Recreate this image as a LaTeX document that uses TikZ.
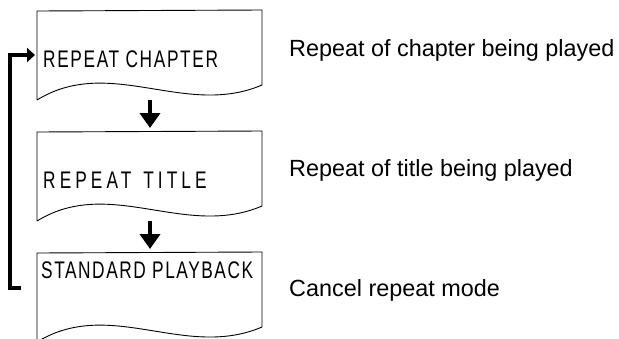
\documentclass[tikz,border=0pt]{standalone}
\usepackage{fontspec}
\setmainfont{Liberation Sans}
\newfontfamily\lcdfont{Liberation Sans}[FakeStretch=0.72]
\usetikzlibrary{arrows.meta,positioning}
\tikzset{panel/.pic={
    \draw[line width=0.9pt] (0,89) -- (0,0) -- (225,-1) -- (225,74) .. controls (148,107) and (73,44) .. (0,89);
    \coordinate (-in) at (113,-4); \coordinate (-out) at (113,89);
    \coordinate (-ret) at (-2,44); \coordinate (-back) at (-16,35);},
  arr/.style={-{Triangle[length=15pt,width=20pt]},line width=4.5pt},
  backarr/.style={-{Triangle[length=8pt,width=14pt]},line width=3.8pt}}

\begin{document}
\begin{tikzpicture}[x=1pt,y=-1pt,
  lcd/.style={anchor=base west,inner sep=0,font=\lcdfont\fontsize{24}{28}\selectfont},
  note/.style={anchor=base west,inner sep=0,font=\fontsize{23.4}{28}\selectfont}]
\useasboundingbox (0,0) rectangle (619,338);
\foreach \n/\y in {1/11,2/132,3/253}{\pic (p\n) at (37,\y) {panel};}
\node[lcd] (t1) at (43,67) {\addfontfeature{LetterSpace=6.8}REPEAT CHAPTER};
\node[lcd] (t2) at (43,188) {\addfontfeature{LetterSpace=17}REPEAT\hspace{3pt} TITLE};
\node[lcd] (t3) at (41,278) {\addfontfeature{LetterSpace=6.5}STANDARD PLAYBACK};
\node[note] (n1) at (289,56) {Repeat of chapter being played};
\node[note] (n2) at (289,176) {Repeat of title being played};
\node[note] (n3) at (289,296) {Cancel repeat mode};
\draw[arr] (p1-out) -- (p2-in);
\draw[arr] (p2-out) -- (p3-in);
\draw[backarr] (p3-back) -- ++(-11,0) |- (p1-ret);
\end{tikzpicture}
\end{document}
